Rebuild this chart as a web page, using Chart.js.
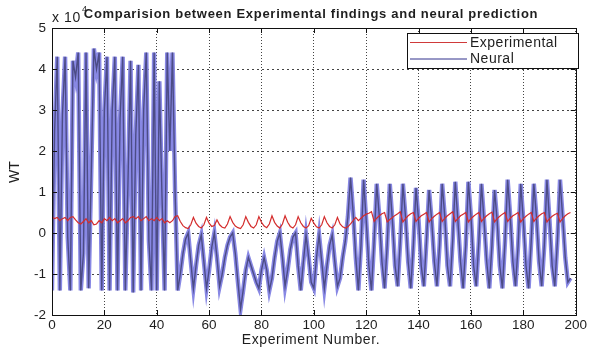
<!DOCTYPE html>
<html>
<head>
<meta charset="utf-8">
<title>WT: experimental vs neural</title>
<script src="https://cdn.jsdelivr.net/npm/chart.js@4.4.1/dist/chart.umd.min.js"></script>
<style>
  html, body { margin: 0; padding: 0; background: #fff; }
  #wrap { width: 589px; height: 349px; }
</style>
</head>
<body>
<div id="wrap"><canvas id="myChart" width="589" height="349"></canvas></div>
<script>
// WT values, in units of 10^4, one per experiment (0..198)
const experimental = [
    0.4, 0.35, 0.38, 0.3, 0.35, 0.38, 0.3, 0.38, 0.4, 0.32,
    0.25, 0.22, 0.28, 0.35, 0.25, 0.3, 0.2, 0.22, 0.3, 0.25,
    0.35, 0.3, 0.38, 0.3, 0.35, 0.25, 0.3, 0.35, 0.25, 0.3,
    0.38, 0.4, 0.35, 0.4, 0.3, 0.35, 0.4, 0.3, 0.35, 0.3,
    0.38, 0.3, 0.35, 0.25, 0.3, 0.25, 0.3, 0.4, 0.42, 0.28,
    0.18, 0.13, 0.11, 0.2, 0.38, 0.24, 0.16, 0.12, 0.2, 0.38,
    0.24, 0.16, 0.18, 0.32, 0.2, 0.14, 0.12, 0.22, 0.4, 0.26,
    0.17, 0.13, 0.11, 0.2, 0.4, 0.26, 0.16, 0.12, 0.2, 0.4,
    0.26, 0.17, 0.13, 0.22, 0.42, 0.26, 0.17, 0.12, 0.22, 0.42,
    0.26, 0.16, 0.12, 0.2, 0.4, 0.25, 0.16, 0.12, 0.18, 0.36,
    0.24, 0.15, 0.12, 0.2, 0.4, 0.25, 0.16, 0.12, 0.2, 0.38,
    0.22, 0.15, 0.12, 0.15, 0.22, 0.3, 0.38, 0.3, 0.36, 0.42,
    0.46, 0.48, 0.52, 0.28, 0.36, 0.42, 0.47, 0.5, 0.27, 0.33,
    0.38, 0.43, 0.47, 0.52, 0.27, 0.35, 0.42, 0.47, 0.5, 0.28,
    0.36, 0.42, 0.46, 0.5, 0.27, 0.35, 0.41, 0.46, 0.5, 0.28,
    0.36, 0.42, 0.47, 0.52, 0.28, 0.35, 0.42, 0.46, 0.5, 0.27,
    0.35, 0.41, 0.46, 0.5, 0.28, 0.36, 0.42, 0.47, 0.51, 0.27,
    0.35, 0.41, 0.46, 0.5, 0.28, 0.36, 0.42, 0.46, 0.5, 0.27,
    0.35, 0.41, 0.46, 0.5, 0.28, 0.36, 0.42, 0.47, 0.5, 0.27,
    0.35, 0.41, 0.45, 0.48, 0.27, 0.35, 0.42, 0.47, 0.5
];
const neural = [
    -1.4, 2.5, 4.3, -1.4, 2.9, 4.3, -0.1, -1.4, 4.2, 3.8,
    4.4, -1.4, -0.5, 4.4, -1.35, 1.5, 4.5, 4.0, 4.4, -1.4,
    3.0, 4.3, -1.4, 3.0, 4.3, -1.4, 2.8, 4.3, -1.4, 1.2,
    4.2, -1.45, 2.4, 4.1, -1.4, 3.0, 4.4, -0.2, -1.4, 4.4,
    -1.4, 3.7, 0.9, -1.4, 4.4, 2.0, 4.4, 1.0, -1.4, -1.0,
    -0.5, -0.15, 0.0, -0.7, -1.35, -0.8, -0.3, -0.05, -0.7, -1.35,
    -0.9, -0.35, 0.0, -0.6, -1.3, -1.0, -0.6, -0.3, -0.1, 0.0,
    -0.5, -1.2, -1.85, -1.4, -0.9, -0.6, -0.8, -1.0, -1.2, -1.35,
    -0.9, -0.6, -0.9, -1.4, -1.1, -0.6, -0.2, 0.0, -0.6, -1.3,
    -0.9, -0.4, -0.1, 0.0, -0.8, -1.4, -0.7, -0.05, -0.6, -1.2,
    -1.35, -0.6, -0.05, -0.7, -1.35, -0.8, -0.3, -0.05, -0.7, -1.3,
    -1.1, -0.6, -0.2, 0.4, 1.35, 0.5, -0.6, -1.4, -0.3, 1.3,
    0.3, -0.8, -1.4, -0.2, 1.2, 0.4, -0.7, -1.35, -0.3, 1.2,
    0.3, -0.8, -1.3, -0.2, 1.2, 0.4, -0.7, -1.35, -0.3, 1.1,
    0.3, -0.8, -1.3, -0.2, 1.05, 0.3, -0.7, -1.3, -0.3, 1.2,
    0.4, -0.8, -1.3, -0.2, 1.25, 0.3, -0.7, -1.35, -0.3, 1.25,
    0.4, -0.8, -1.3, -0.2, 1.2, 0.3, -0.7, -1.35, -0.3, 1.05,
    0.3, -0.8, -1.35, -0.2, 1.3, 0.4, -0.7, -1.3, -0.3, 1.2,
    0.3, -0.8, -1.35, -0.2, 1.2, 0.4, -0.7, -1.3, -0.3, 1.3,
    0.3, -0.8, -1.3, -0.2, 1.3, 0.4, -0.6, -1.2, -1.1
];
const experimentNo = neural.map((_, i) => i);

const xTicks = [0, 20, 40, 60, 80, 100, 120, 140, 160, 180, 200];
const yTicks = [-2, -1, 0, 1, 2, 3, 4, 5];

const chartTitle = 'Comparision between Experimental findings and neural prediction';
const xLabel = 'Experiment Number.';
const yLabel = 'WT';

const FONT = 'Arial, "Liberation Sans", sans-serif';
const TEXT = '#1e1e1e';

function toPoints(values) {
    return values.map((v, i) => ({ x: experimentNo[i], y: v }));
}

// box, inward ticks, legend and texts drawn MATLAB style
const matlabAxes = {
    id: 'matlabAxes',
    afterDatasetsDraw(chart) {
        const { ctx, chartArea: a, scales: { x, y } } = chart;
        ctx.save();
        ctx.setLineDash([]);
        ctx.strokeStyle = '#111';
        ctx.lineWidth = 1;
        ctx.beginPath();
        xTicks.forEach(v => {
            const px = Math.round(x.getPixelForValue(v)) + 0.5;
            ctx.moveTo(px, a.bottom); ctx.lineTo(px, a.bottom - 5);
            ctx.moveTo(px, a.top); ctx.lineTo(px, a.top + 5);
        });
        yTicks.forEach(v => {
            const py = Math.round(y.getPixelForValue(v)) + 0.5;
            ctx.moveTo(a.left, py); ctx.lineTo(a.left + 5, py);
            ctx.moveTo(a.right, py); ctx.lineTo(a.right - 5, py);
        });
        ctx.stroke();
        ctx.strokeRect(Math.round(a.left) + 0.5, Math.round(a.top) + 0.5,
                       Math.round(a.width), Math.round(a.height));

        // legend box in the upper right corner
        const items = chart.data.datasets.filter(d => d.inLegend);
        const bx = 407.5, by = 33.5, bw = 171, bh = 35;
        ctx.fillStyle = '#fff';
        ctx.fillRect(bx, by, bw, bh);
        ctx.strokeStyle = '#111';
        ctx.strokeRect(bx, by, bw, bh);
        ctx.font = '14px ' + FONT;
        ctx.letterSpacing = '0.5px';
        ctx.textBaseline = 'middle';
        ctx.textAlign = 'left';
        items.forEach((d, i) => {
            const ly = 42.5 + i * 16.5;
            ctx.strokeStyle = d.legendColor;
            ctx.beginPath();
            ctx.moveTo(410, ly); ctx.lineTo(467, ly);
            ctx.stroke();
            ctx.fillStyle = TEXT;
            ctx.fillText(d.label, 470, ly + 0.5);
        });
        ctx.restore();
    },
    afterDraw(chart) {
        const { ctx } = chart;
        ctx.save();
        ctx.fillStyle = TEXT;
        ctx.textBaseline = 'middle';

        ctx.textAlign = 'center';
        ctx.font = 'bold 13px ' + FONT;
        ctx.letterSpacing = '0.7px';
        ctx.fillText(chartTitle, 311, 14.5);

        // exponent of the y axis
        ctx.textAlign = 'left';
        ctx.font = '14px ' + FONT;
        ctx.letterSpacing = '0.6px';
        ctx.fillText('x 10', 52, 18.5);
        ctx.font = '9px ' + FONT;
        ctx.fillText('4', 82, 10);

        ctx.textAlign = 'center';
        ctx.font = '14px ' + FONT;
        ctx.letterSpacing = '0.6px';
        ctx.fillText(xLabel, 311, 340);

        ctx.letterSpacing = '0px';
        ctx.translate(15, 172);
        ctx.rotate(-Math.PI / 2);
        ctx.fillText(yLabel, 0, 0);
        ctx.restore();
    }
};

const ctx = document.getElementById('myChart').getContext('2d');
const myChart = new Chart(ctx, {
    type: 'line',
    data: {
        datasets: [{
            label: 'Experimental',
            inLegend: true,
            legendColor: '#d03a3a',
            data: toPoints(experimental),
            borderColor: '#d42c2c',
            borderWidth: 1.2,
            pointRadius: 0,
            tension: 0
        }, {
            label: 'Neural',
            inLegend: true,
            legendColor: '#30308c',
            data: toPoints(neural),
            borderColor: '#4c4c86',
            borderWidth: 1.4,
            pointRadius: 0,
            tension: 0
        }, {
            // soft blue halo under the neural line
            label: 'Neural halo',
            data: toPoints(neural),
            borderColor: '#8888e4',
            borderWidth: 4.4,
            pointRadius: 0,
            tension: 0
        }]
    },
    options: {
        responsive: false,
        animation: false,
        events: [],
        layout: { padding: { top: 28, right: 11, left: 0, bottom: 0 } },
        plugins: {
            legend: { display: false },
            title: { display: false },
            tooltip: { enabled: false }
        },
        scales: {
            x: {
                type: 'linear',
                min: 0,
                max: 200,
                afterBuildTicks: s => { s.ticks = xTicks.map(v => ({ value: v })); },
                afterFit: s => { s.height = 34; },
                grid: { color: '#444', lineWidth: 1, drawTicks: false },
                border: { display: false, dash: [1, 2] },
                ticks: { padding: 2, color: TEXT, font: { family: FONT, size: 13.5 }, maxRotation: 0 }
            },
            y: {
                type: 'linear',
                min: -2,
                max: 5,
                afterBuildTicks: s => { s.ticks = yTicks.map(v => ({ value: v })); },
                afterFit: s => { s.width = 52; },
                grid: { color: '#444', lineWidth: 1, drawTicks: false },
                border: { display: false, dash: [2, 3] },
                ticks: { padding: 6, color: TEXT, font: { family: FONT, size: 13.5 } }
            }
        }
    },
    plugins: [matlabAxes]
});
</script>
</body>
</html>
